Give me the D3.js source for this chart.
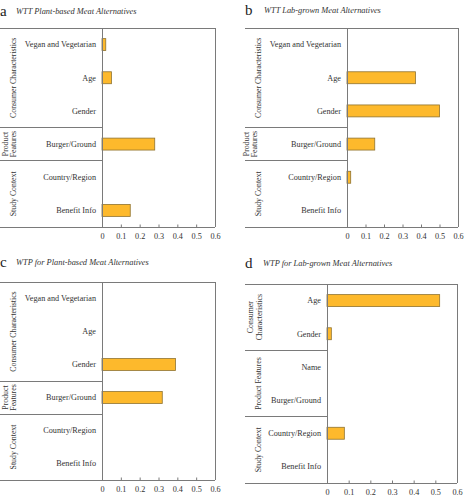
<!DOCTYPE html>
<html><head><meta charset="utf-8">
<script src="https://cdn.jsdelivr.net/npm/d3@7"></script>
<style>body{margin:0;background:#fff}svg{display:block}svg text{font-family:"Liberation Serif","Times New Roman",Times,serif}</style>
</head><body>
<svg id="c" width="467" height="500"></svg>
<script>
const ticks = [0, 0.1, 0.2, 0.3, 0.4, 0.5, 0.6];

const catsA = ["Vegan and Vegetarian","Age","Gender","Burger/Ground","Country/Region","Benefit Info"];
const valsA = [0.02, 0.05, 0, 0.28, 0, 0.15];
const catsB = ["Vegan and Vegetarian","Age","Gender","Burger/Ground","Country/Region","Benefit Info"];
const valsB = [0, 0.37, 0.50, 0.15, 0.02, 0];
const catsC = ["Vegan and Vegetarian","Age","Gender","Burger/Ground","Country/Region","Benefit Info"];
const valsC = [0, 0, 0.39, 0.32, 0, 0];
const catsD = ["Age","Gender","Name","Burger/Ground","Country/Region","Benefit Info"];
const valsD = [0.52, 0.02, 0, 0, 0.08, 0];

const groupsABC = [["Consumer Characteristics"], ["Product","Features"], ["Study Context"]];
const groupSizesABC = [3, 1, 2];
const groupsD = [["Consumer","Characteristics"], ["Product Features"], ["Study Context"]];
const groupSizesD = [2, 2, 2];

const letters = ["a","b","c","d"];
const titles = ["WTT Plant-based Meat Alternatives","WTT Lab-grown Meat Alternatives",
                "WTP for Plant-based Meat Alternatives","WTP for Lab-grown Meat Alternatives"];

const panels = [
  {cats:catsA, vals:valsA, groups:groupsABC, sizes:groupSizesABC, L:0,   ax:102, R:215, T:28,  B:227, lx:0,   ly:16,  tx:16,  gx:[[13],[5,13],[13]]},
  {cats:catsB, vals:valsB, groups:groupsABC, sizes:groupSizesABC, L:245, ax:347, R:458, T:28,  B:227, lx:245, ly:15,  tx:264, gx:[[258],[246,254],[258]]},
  {cats:catsC, vals:valsC, groups:groupsABC, sizes:groupSizesABC, L:0,   ax:102, R:215, T:282, B:480, lx:0,   ly:267, tx:16,  gx:[[13],[5,13],[13]]},
  {cats:catsD, vals:valsD, groups:groupsD,   sizes:groupSizesD,   L:245, ax:327, R:457, T:284, B:483, lx:245, ly:268, tx:263, gx:[[250,259],[258],[258]]}
];

const svg = d3.select("#c");
const lineCol = "#7a7a7a";
const txtCol = "#333";

panels.forEach((p, i) => {
  const g = svg.append("g");
  g.append("text").attr("x", p.lx).attr("y", p.ly)
    .attr("font-size", 15).attr("fill", "#222").text(letters[i]);
  g.append("text").attr("x", p.tx).attr("y", p.ly - 2)
    .attr("font-size", 8.4).attr("font-style", "italic").attr("fill", "#333").text(titles[i]);

  const x = d3.scaleLinear().domain([0, 0.6]).range([p.ax, p.R]);
  const y = d3.scaleBand().domain(p.cats).range([p.T, p.B]);

  const bh = y.bandwidth() * 0.36;
  g.selectAll("rect.bar").data(p.cats.map((c, k) => ({c, v: p.vals[k]})).filter(d => d.v > 0))
    .enter().append("rect")
    .attr("x", x(0)).attr("y", d => y(d.c) + (y.bandwidth() - bh) / 2)
    .attr("width", d => x(d.v) - x(0)).attr("height", bh)
    .attr("fill", "#FDB92C").attr("stroke", "#8f7330").attr("stroke-width", 0.8);

  g.selectAll("text.cat").data(p.cats).enter().append("text")
    .attr("x", p.ax - 6).attr("y", d => y(d) + y.bandwidth() / 2)
    .attr("dy", "0.35em").attr("text-anchor", "end")
    .attr("font-size", 8.2).attr("fill", txtCol).text(d => d);

  const ln = (x1, y1, x2, y2) => g.append("line").attr("x1", x1).attr("y1", y1).attr("x2", x2).attr("y2", y2)
    .attr("stroke", lineCol).attr("stroke-width", 1).attr("shape-rendering", "crispEdges");
  ln(p.L, p.T, p.R, p.T);
  ln(p.R, p.T, p.R, p.B);
  ln(p.ax, p.T, p.ax, p.B);

  let start = 0;
  p.groups.forEach((lines, gi) => {
    const n = p.sizes[gi];
    const y0 = y(p.cats[start]);
    const y1 = y(p.cats[start + n - 1]) + y.bandwidth();
    if (gi > 0) ln(p.L, y0, p.ax, y0);
    const cy = (y0 + y1) / 2;
    lines.forEach((t, li) => {
      const gx = p.gx[gi][li];
      g.append("text").attr("transform", `translate(${gx},${cy}) rotate(-90)`)
        .attr("text-anchor", "middle").attr("dy", "0.35em")
        .attr("font-size", 7.8).attr("fill", txtCol).text(t);
    });
    start += n;
  });

  const axis = d3.axisBottom(x).tickValues(ticks).tickSize(-2.5).tickPadding(6)
    .tickFormat(d => d === 0 ? "0" : d3.format(".1f")(d));
  const ag = g.append("g").attr("transform", `translate(0,${p.B})`).call(axis);
  ag.attr("font-family", null);
  ag.select(".domain").remove();
  ag.selectAll(".tick line").attr("stroke", lineCol);
  ag.selectAll(".tick text").attr("font-size", 8.2).attr("fill", txtCol);
  ln(p.L, p.B, p.R, p.B);
});
</script>
</body></html>
